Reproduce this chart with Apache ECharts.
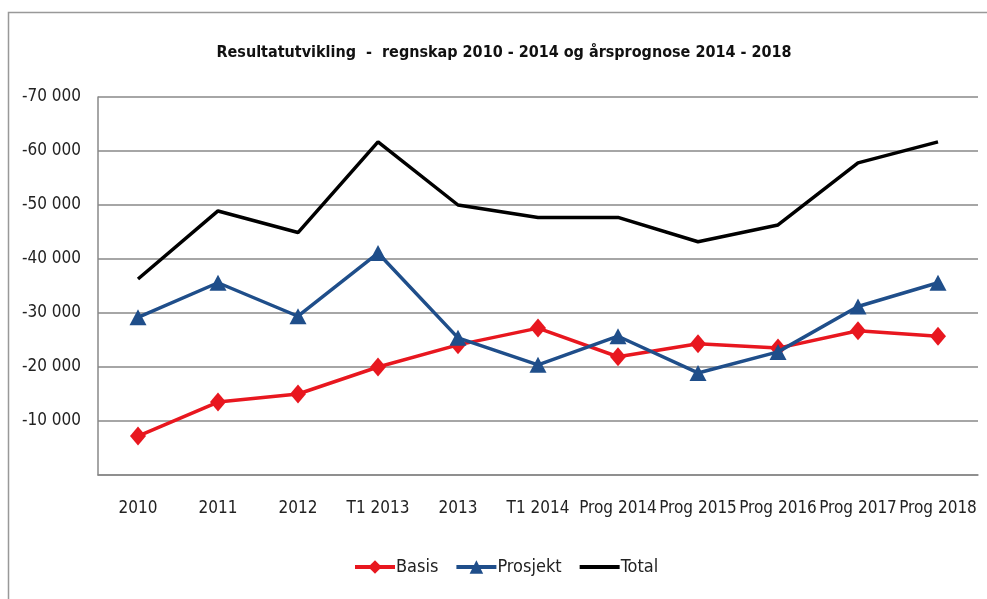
<!DOCTYPE html>
<html>
<head>
<meta charset="utf-8">
<style>
  html, body { margin: 0; padding: 0; background: #fff; }
  #chart { width: 987px; height: 599px; }
</style>
<script src="https://cdn.jsdelivr.net/npm/echarts@6/dist/echarts.min.js"></script>
</head>
<body>
<div id="chart"></div>
<script>
    // Resultatutvikling - regnskap og prognose
    var categories = ['2010', '2011', '2012', 'T1 2013', '2013', 'T1 2014',
        'Prog 2014', 'Prog 2015', 'Prog 2016', 'Prog 2017', 'Prog 2018'];
    var basis = [-7200, -13500, -15000, -20000, -24100, -27200,
        -21900, -24300, -23500, -26700, -25700];
    var prosjekt = [-29200, -35600, -29400, -41100, -25400, -20400,
        -25700, -18900, -22800, -31200, -35600];
    var total = [-36300, -48900, -44900, -61700, -50000, -47700,
        -47700, -43200, -46300, -57800, -61700];

    var font = "'Liberation Sans Narrow', 'DejaVu Sans Condensed', sans-serif";

    var chart = echarts.init(document.getElementById('chart'));
    var option = {
        animation: false,
        textStyle: { fontFamily: font },
        title: {
            text: 'Resultatutvikling  -  regnskap 2010 - 2014 og årsprognose 2014 - 2018',
            left: 499,
            textAlign: 'center',
            top: 40,
            textStyle: {
                fontFamily: font,
                fontSize: 16,
                fontWeight: 'bold',
                color: '#111'
            }
        },
        graphic: [{
            type: 'rect',
            shape: { x: 8.5, y: 12.5, width: 1000, height: 620 },
            style: { fill: 'none', stroke: '#999', lineWidth: 1.5 },
            silent: true
        }],
        legend: {
            bottom: 18,
            left: 348,
            itemGap: 16,
            itemWidth: 40,
            itemHeight: 17,
            lineStyle: { width: 4 },
            textStyle: { fontFamily: font, fontSize: 18, color: '#222', padding: [0, 0, 0, -4] },
            data: ['Basis', 'Prosjekt', {
                name: 'Total',
                itemStyle: { color: 'transparent', borderColor: 'transparent', borderWidth: 0 }
            }]
        },
        grid: {
            left: 98,
            right: 9,
            top: 97,
            bottom: 124,
            containLabel: false
        },
        xAxis: {
            type: 'category',
            data: categories,
            axisTick: { show: false },
            axisLine: {
                show: true,
                lineStyle: { color: '#888', width: 1.5 }
            },
            axisLabel: {
                interval: 0,
                margin: 25,
                color: '#222',
                fontSize: 17,
                fontFamily: font
            }
        },
        yAxis: {
            type: 'value',
            min: -70000,
            max: 0,
            interval: 10000,
            inverse: true,
            axisTick: { show: false },
            axisLine: {
                show: true,
                lineStyle: { color: '#888', width: 1.5 }
            },
            splitLine: {
                show: true,
                lineStyle: { color: '#888', width: 1.5 }
            },
            axisLabel: {
                margin: 17,
                color: '#222',
                fontSize: 17,
                fontFamily: font,
                formatter: function (v) {
                    if (v === 0) return '';
                    var s = String(Math.abs(v));
                    return '-' + s.slice(0, s.length - 3) + ' ' + s.slice(-3);
                }
            }
        },
        series: [
            {
                name: 'Basis',
                type: 'line',
                data: basis,
                symbol: 'diamond',
                symbolSize: [16, 19],
                color: '#e8171f',
                lineStyle: { width: 3.5, color: '#e8171f' },
                itemStyle: { color: '#e8171f' },
                z: 3
            },
            {
                name: 'Prosjekt',
                type: 'line',
                data: prosjekt,
                symbol: 'triangle',
                symbolSize: [17, 16],
                color: '#1f4e8a',
                lineStyle: { width: 3.5, color: '#1f4e8a' },
                itemStyle: { color: '#1f4e8a' },
                z: 4
            },
            {
                name: 'Total',
                type: 'line',
                data: total,
                symbol: 'none',
                color: '#000',
                lineStyle: { width: 3.5, color: '#000' },
                z: 2
            }
        ]
    };
    chart.setOption(option);
</script>
</body>
</html>
